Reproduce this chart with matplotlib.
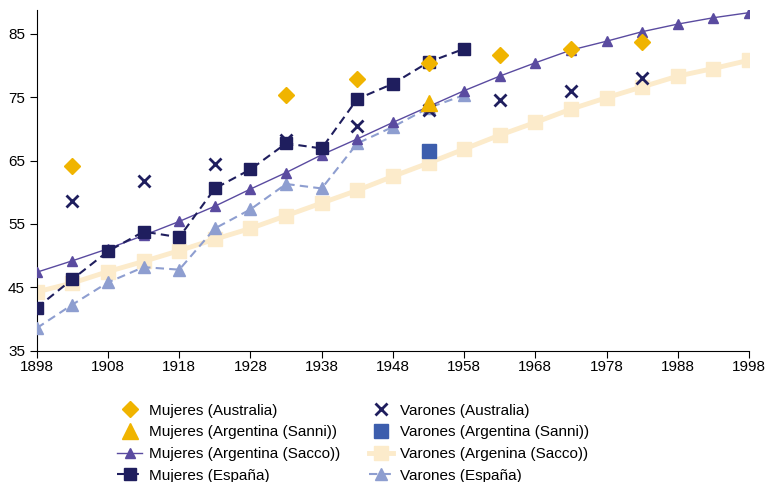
import numpy as np
import matplotlib

matplotlib.use('Agg')

import matplotlib.pyplot as plt

plt.rcParams['font.family'] = ['Liberation Sans', 'DejaVu Sans']

# años cada 5 desde 1898
anios_sacco = np.arange(1898, 1999, 5)
anios_esp = np.arange(1898, 1959, 5)

muj_sacco = [47.4, 49.2, 51.1, 53.2, 55.4, 57.8, 60.5, 63.1, 65.9, 68.4, 71.0,
             73.5, 76.0, 78.3, 80.4, 82.4, 83.8, 85.3, 86.5, 87.5, 88.3]
var_sacco = [44.3, 45.7, 47.5, 49.1, 50.8, 52.6, 54.3, 56.3, 58.3, 60.3, 62.5,
             64.6, 66.8, 69.0, 71.0, 73.1, 74.9, 76.6, 78.3, 79.5, 80.8]
muj_esp = [41.8, 46.3, 50.7, 53.8, 52.9, 60.6, 63.6, 67.7, 66.9, 74.7, 77.1, 80.5, 82.6]
var_esp = [38.6, 42.3, 45.8, 48.2, 47.8, 54.3, 57.3, 61.3, 60.6, 67.7, 70.3, 73.3, 75.3]

anios_aus_m = [1903, 1933, 1943, 1953, 1963, 1973, 1983]
muj_aus = [64.2, 75.4, 77.8, 80.3, 81.7, 82.5, 83.7]
anios_aus_v = [1903, 1913, 1923, 1933, 1943, 1953, 1963, 1973, 1983]
var_aus = [58.6, 61.8, 64.5, 68.3, 70.4, 72.9, 74.6, 75.9, 78.0]

anios_sanni = [1953]
muj_sanni = [74.0]
var_sanni = [66.5]

fig = plt.figure(figsize=(7.67, 4.82), dpi=100)
ax = fig.add_axes([0.048, 0.272, 0.9285, 0.707])

h_vsacco, = ax.plot(anios_sacco, var_sacco, color='#FCEBCB', lw=3.5, marker='s', ms=10,
                    label='Varones (Argenina (Sacco))', zorder=2)
h_vesp, = ax.plot(anios_esp, var_esp, color='#8E9ED0', lw=1.5, ls=(0, (4, 2.5)), marker='^', ms=9,
                  label='Varones (España)', zorder=3)
h_msacco, = ax.plot(anios_sacco, muj_sacco, color='#5A4BA0', lw=1, marker='^', ms=7,
                    label='Mujeres (Argentina (Sacco))', zorder=4)
h_mesp, = ax.plot(anios_esp, muj_esp, color='#1F1E5E', lw=1.5, ls=(0, (4, 2.5)), marker='s', ms=8,
                  label='Mujeres (España)', zorder=5)
h_vaus, = ax.plot(anios_aus_v, var_aus, ls='none', marker='x', color='#1F1E5E', ms=9, mew=2,
                  label='Varones (Australia)', zorder=6)
h_maus, = ax.plot(anios_aus_m, muj_aus, ls='none', marker='D', color='#F0B400', ms=8,
                  label='Mujeres (Australia)', zorder=7)
h_msanni, = ax.plot(anios_sanni, muj_sanni, ls='none', marker='^', color='#F0B400', ms=11,
                    label='Mujeres (Argentina (Sanni))', zorder=7)
h_vsanni, = ax.plot(anios_sanni, var_sanni, ls='none', marker='s', color='#3D5EAD', ms=10,
                    label='Varones (Argentina (Sanni))', zorder=7)

ax.set_xlim(1898, 1998)
ax.set_ylim(35, 88.7)
ax.set_xticks(np.arange(1898, 1999, 10))
ax.set_yticks(np.arange(35, 86, 10))
ax.tick_params(direction='out', length=5, labelsize=11)
ax.tick_params(axis='x', pad=1.5)
for s in ['top', 'right']:
    ax.spines[s].set_visible(False)

handles = [h_maus, h_msanni, h_msacco, h_mesp, h_vaus, h_vsanni, h_vsacco, h_vesp]
fig.legend(handles, [h.get_label() for h in handles], ncol=2, frameon=False,
           loc='upper left', bbox_to_anchor=(0.145, 0.175), fontsize=11,
           handlelength=1.6, labelspacing=0.5, columnspacing=1.9, handletextpad=0.45,
           borderaxespad=0)

fig.savefig('out.png')
